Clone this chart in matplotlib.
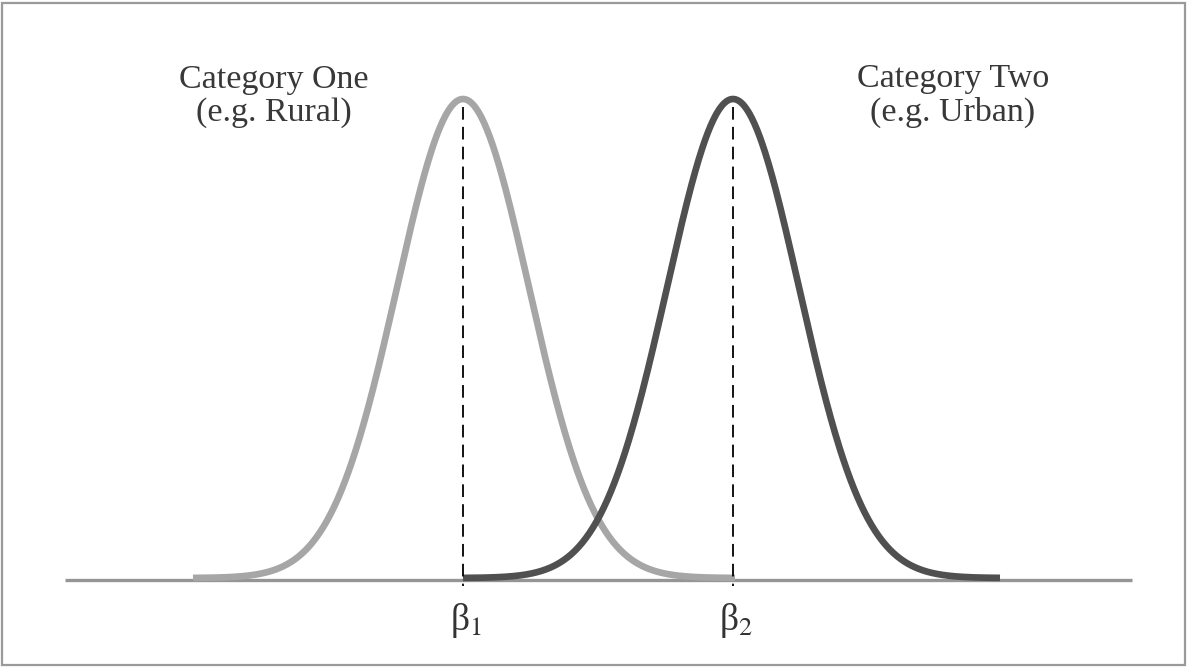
import numpy as np
import matplotlib.pyplot as plt

# Two normal curves (schematic), in figure-pixel units
centers = [463, 733]
sigma = 66
peak = 479
x_ranges = [(193, 735), (463, 1000)]
colors = ['#a6a6a6', '#505050']
labels = ['Category One\n(e.g. Rural)', 'Category Two\n(e.g. Urban)']
label_x = [274, 953]
beta_labels = ['β$_1$', 'β$_2$']

baseline_y = 578
axis_x = (65, 1132)

plt.rcParams['mathtext.fontset'] = 'stix'

fig = plt.figure(figsize=(11.88, 6.68), dpi=100)
ax = fig.add_axes([0, 0, 1, 1])
ax.set_xlim(0, 1188)
ax.set_ylim(668, 0)
ax.axis('off')

# outer frame
ax.add_patch(plt.Rectangle((2, 3), 1183, 662, fill=False, edgecolor='#9a9a9a', lw=1.6))

# baseline
ax.plot(axis_x, [baseline_y + 2, baseline_y + 2], color='#959595', lw=2.4, solid_capstyle='butt')

for c, (x0, x1), col in zip(centers, x_ranges, colors):
    x = np.linspace(x0, x1, 600)
    y = baseline_y - peak * np.exp(-(x - c) ** 2 / (2 * sigma ** 2))
    ax.plot(x, y, color=col, lw=4.8, solid_capstyle='butt', solid_joinstyle='round')

for c, bl in zip(centers, beta_labels):
    ax.plot([c, c], [baseline_y - peak + 8, baseline_y + 8], color='black', lw=1.3,
            dashes=(7, 4))
    ax.text(c + 3, 620, bl, fontsize=27, ha='center', va='center', color='#333333',
            family='Liberation Serif')

for lx, lab in zip(label_x, labels):
    ax.text(lx, 96, lab, fontsize=24.5, ha='center', va='center', color='#383838',
            family='Liberation Serif', linespacing=1.1)

fig.savefig('out.png', dpi=100)
